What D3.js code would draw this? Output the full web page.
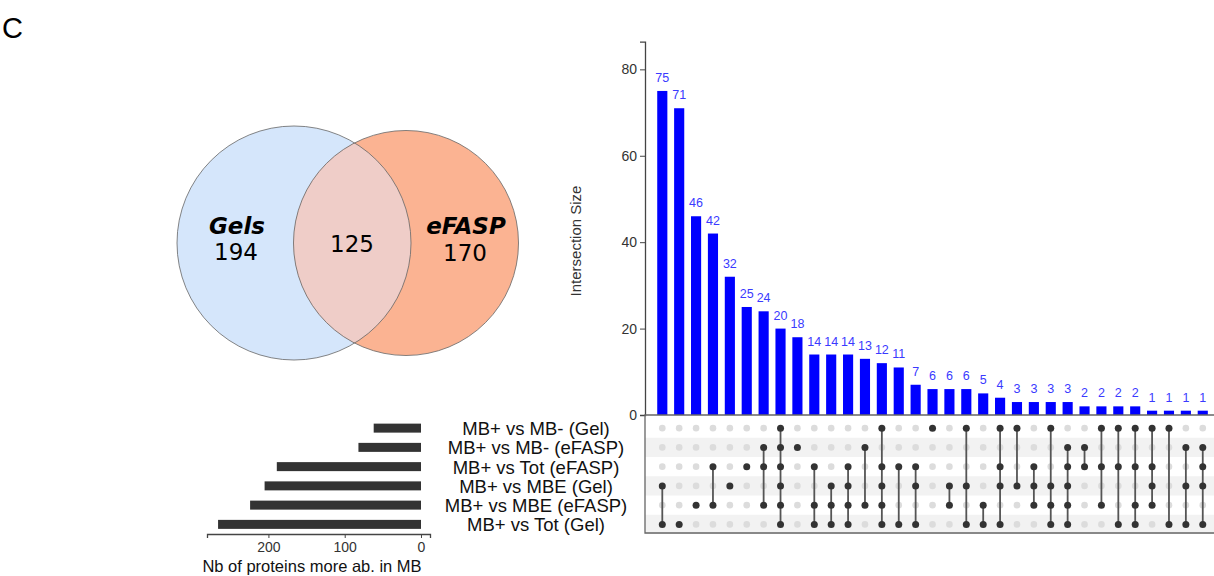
<html>
<head>
<script src="https://d3js.org/d3.v7.min.js"></script>
<style>
    body { margin: 0; background: #fff; }
    svg { font-family: "Liberation Sans", Arial, sans-serif; }
    .venn-text { font-family: "DejaVu Sans", sans-serif; }
    .axis text { fill: #333; }
    .axis path, .axis line { stroke: #444; }
</style>
</head>
<body>
<div id="chart"></div>
<script>
// ---- data ----
var setNames = ["MB+ vs MB- (Gel)", "MB+ vs MB- (eFASP)", "MB+ vs Tot (eFASP)",
                "MB+ vs MBE (Gel)", "MB+ vs MBE (eFASP)", "MB+ vs Tot (Gel)"];
var setSizes = [62, 82, 189, 205, 224, 266];

var intersectionSizes = [75, 71, 46, 42, 32, 25, 24, 20, 18, 14, 14, 14, 13, 12, 11,
                         7, 6, 6, 6, 5, 4, 3, 3, 3, 3, 2, 2, 2, 2, 1, 1, 1, 1];
// row indices (0 = top row) that take part in each intersection
var intersectionSets = [
    [3, 5], [5], [4], [2, 4], [3], [2], [1, 2, 4], [0, 1, 2, 3, 4, 5], [1],
    [2, 4, 5], [3, 4, 5], [2, 3, 4, 5], [1, 4], [0, 2, 3, 4, 5], [2, 5], [2, 3, 5],
    [0], [3, 4], [0, 3, 5], [4, 5], [0, 2, 3, 5], [0, 3], [2, 3, 4], [0, 3, 4, 5],
    [1, 2, 3, 4, 5], [1, 2], [0, 2, 4], [0, 2, 5], [0, 2, 4, 5], [0, 2, 3, 4],
    [0, 5], [1, 3, 5], [1, 2, 3, 5]
];
var yTicks = [0, 20, 40, 60, 80];
var setTicks = [0, 100, 200];

var vennNames = ["Gels", "eFASP"];
var vennOnly = [194, 170];
var vennShared = 125;

// ---- layout ----
var W = 1214, H = 576;
var svg = d3.select("#chart").append("svg")
    .attr("width", W).attr("height", H);

svg.append("text")
    .attr("x", 2).attr("y", 38)
    .style("font-size", "29px")
    .text("C");

/* Venn */
var vennTotals = [vennOnly[0] + vennShared, vennOnly[1] + vennShared];
var rScale = d3.scaleSqrt().domain([0, vennTotals[0]]).range([0, 117]);
var vennCx = [294, 406], vennCy = 243;
var vennFill = ["#d5e6fb", "#fbb392"];

var defs = svg.append("defs");
defs.append("clipPath").attr("id", "clipLeft")
    .append("circle")
    .attr("cx", vennCx[0]).attr("cy", vennCy).attr("r", rScale(vennTotals[0]));

var venn = svg.append("g");
venn.selectAll(".vcircle")
    .data(vennTotals).enter()
    .append("circle")
    .attr("class", "vcircle")
    .attr("cx", (d, i) => vennCx[i])
    .attr("cy", vennCy)
    .attr("r", d => rScale(d))
    .attr("fill", (d, i) => vennFill[i]);
venn.append("circle")
    .attr("cx", vennCx[1]).attr("cy", vennCy).attr("r", rScale(vennTotals[1]))
    .attr("clip-path", "url(#clipLeft)")
    .attr("fill", "#efcdc8");
venn.selectAll(".vborder")
    .data(vennTotals).enter()
    .append("circle")
    .attr("class", "vborder")
    .attr("cx", (d, i) => vennCx[i])
    .attr("cy", vennCy)
    .attr("r", d => rScale(d))
    .attr("fill", "none")
    .attr("stroke", "#666")
    .attr("stroke-width", 0.8);

var nameX = [237, 466], numX = [236, 465];
venn.selectAll(".vname")
    .data(vennNames).enter()
    .append("text")
    .attr("class", "venn-text")
    .attr("x", (d, i) => nameX[i]).attr("y", 234)
    .attr("text-anchor", "middle")
    .style("font-size", "23px").style("font-weight", "bold").style("font-style", "italic")
    .text(d => d);
venn.selectAll(".vnum")
    .data(vennOnly).enter()
    .append("text")
    .attr("class", "venn-text")
    .attr("x", (d, i) => numX[i]).attr("y", (d, i) => i == 0 ? 260 : 261)
    .attr("text-anchor", "middle")
    .style("font-size", "23px")
    .text(d => d);
venn.append("text")
    .attr("class", "venn-text")
    .attr("x", 352).attr("y", 252)
    .attr("text-anchor", "middle")
    .style("font-size", "23px")
    .text(vennShared);

/* UpSet: intersection bars */
var x = d3.scaleBand()
    .domain(d3.range(intersectionSizes.length))
    .range([653.85, 1211.2])
    .paddingInner(0.4).paddingOuter(0.2);
var y = d3.scaleLinear().domain([0, 86.4]).range([415, 41.7]);
var axisX = 645;

svg.append("g")
    .selectAll("rect")
    .data(intersectionSizes).enter()
    .append("rect")
    .attr("x", (d, i) => x(i))
    .attr("y", d => y(d))
    .attr("width", x.bandwidth())
    .attr("height", d => y(0) - y(d))
    .attr("fill", "#0000ff");

svg.append("g")
    .selectAll("text")
    .data(intersectionSizes).enter()
    .append("text")
    .attr("x", (d, i) => x(i) + x.bandwidth() / 2)
    .attr("y", d => y(d) - 9)
    .attr("text-anchor", "middle")
    .attr("fill", "#3a3aff")
    .style("font-size", "12.5px")
    .text(d => d);

svg.append("g")
    .attr("class", "axis")
    .attr("transform", `translate(${axisX},0)`)
    .call(d3.axisLeft(y).tickValues(yTicks).tickSizeOuter(0).tickSize(5).tickPadding(3))
    .call(g => g.selectAll("text").style("font-size", "14px"))
    .call(g => g.select(".domain").attr("stroke-width", 1.3));

svg.append("text")
    .attr("transform", "translate(581,241) rotate(-90)")
    .attr("text-anchor", "middle")
    .attr("fill", "#333")
    .style("font-size", "15px")
    .text("Intersection Size");

/* UpSet: matrix */
var rowY = d3.scaleBand().domain(d3.range(setNames.length)).range([418.5, 534]);
var rowC = i => rowY(i) + rowY.bandwidth() / 2;

var matrix = svg.append("g");
matrix.selectAll(".stripe")
    .data(d3.range(setNames.length).filter(i => i % 2 == 1)).enter()
    .append("rect")
    .attr("x", axisX).attr("y", d => rowY(d))
    .attr("width", W - axisX).attr("height", rowY.bandwidth())
    .attr("fill", "#f2f2f2");

intersectionSizes.forEach(function(v, c) {
    var cx = x(c) + x.bandwidth() / 2;
    var on = intersectionSets[c];
    matrix.selectAll(null)
        .data(d3.range(setNames.length).filter(r => on.indexOf(r) < 0)).enter()
        .append("circle")
        .attr("cx", cx).attr("cy", d => rowC(d)).attr("r", 3.3)
        .attr("fill", "#dcdcdc");
    if (on.length > 1) {
        matrix.append("line")
            .attr("x1", cx).attr("x2", cx)
            .attr("y1", rowC(d3.min(on))).attr("y2", rowC(d3.max(on)))
            .attr("stroke", "#555").attr("stroke-width", 1.8);
    }
    matrix.selectAll(null)
        .data(on).enter()
        .append("circle")
        .attr("cx", cx).attr("cy", d => rowC(d)).attr("r", 3.5)
        .attr("fill", "#333");
});

// panel border (left, bottom) and baseline of the bars
matrix.append("path")
    .attr("d", `M${W},415H${axisX}V533H${W}`)
    .attr("fill", "none").attr("stroke", "#666").attr("stroke-width", 1.3);

/* set size bars */
var sx = d3.scaleLinear().domain([280.5, -11.8]).range([207, 430]);
svg.append("g")
    .selectAll("rect")
    .data(setSizes).enter()
    .append("rect")
    .attr("x", d => sx(d))
    .attr("y", (d, i) => rowC(i) - 4.5)
    .attr("width", d => sx(0) - sx(d))
    .attr("height", 9)
    .attr("fill", "#333");

svg.append("g")
    .attr("class", "axis")
    .attr("transform", "translate(0,534)")
    .call(d3.axisBottom(sx).tickValues(setTicks).tickSizeOuter(0).tickSize(4).tickPadding(4))
    .call(g => g.selectAll("text").style("font-size", "14px"))
    .call(g => g.select(".domain").attr("stroke-width", 1.3));

svg.append("text")
    .attr("x", 312).attr("y", 572)
    .attr("text-anchor", "middle")
    .attr("fill", "#111")
    .style("font-size", "16.5px")
    .text("Nb of proteins more ab. in MB");

svg.append("g")
    .selectAll("text")
    .data(setNames).enter()
    .append("text")
    .attr("x", 536)
    .attr("y", (d, i) => rowC(i) + 7)
    .attr("text-anchor", "middle")
    .attr("fill", "#111")
    .style("font-size", "18.5px")
    .text(d => d);
</script>
</body>
</html>
